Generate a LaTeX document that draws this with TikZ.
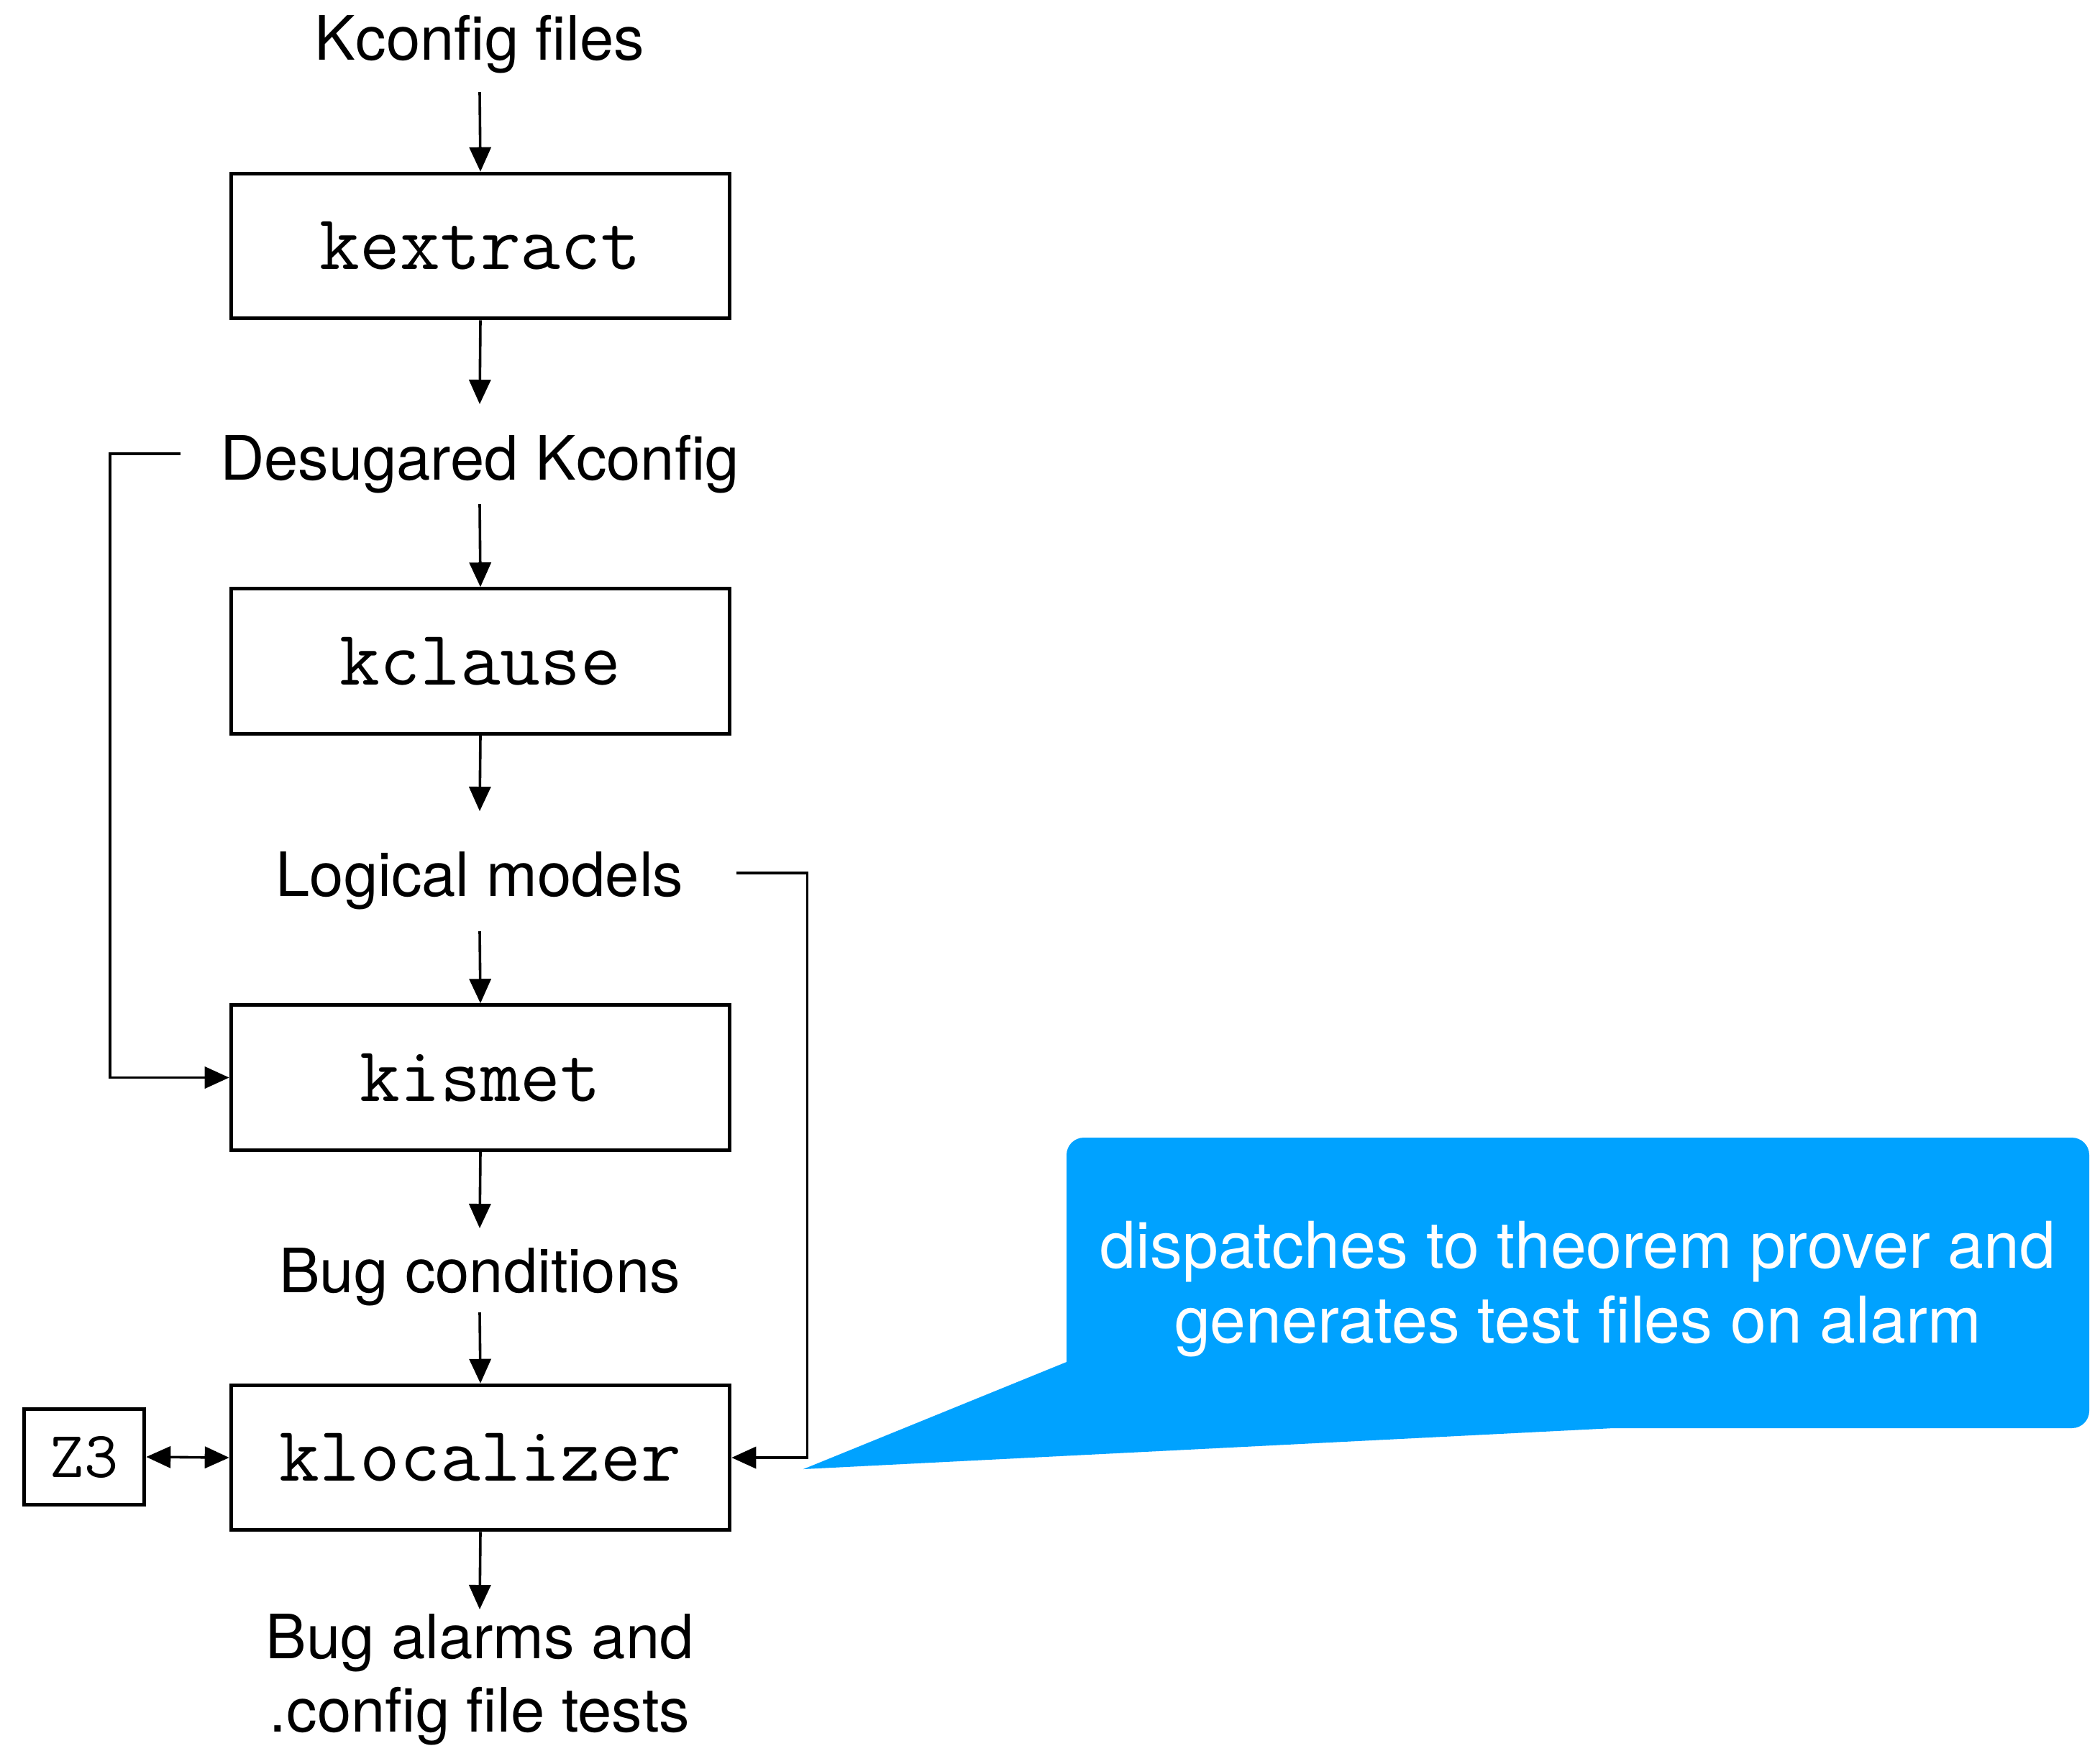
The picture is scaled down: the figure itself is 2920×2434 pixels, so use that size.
\documentclass[tikz,border=0pt]{standalone}
\usepackage{fontspec}
\setmainfont{TeX Gyre Heros}
\usetikzlibrary{arrows.meta}
\definecolor{calloutblue}{RGB}{0,162,255}
\begin{document}
\begin{tikzpicture}[x=0.25pt,y=-0.25pt,
  >={Triangle[length=8.5pt,width=7.5pt]},
  lbl/.style={inner sep=0pt, anchor=base, font=\fontsize{21.25pt}{25.5pt}\selectfont},
  tool/.style={draw, line width=1.25pt, minimum width=173.4pt, minimum height=50.4pt,
    inner sep=0pt, font=\ttfamily\fontsize{27.1pt}{32pt}\selectfont},
  conn/.style={line width=0.9pt, ->},
  note/.style={inner sep=0pt, anchor=base, text=white, font=\fontsize{22.4pt}{26pt}\selectfont}]
\path[use as bounding box] (0,0) rectangle (2920,2434);

% callout bubble
\fill[calloutblue] (1483,1894) [rounded corners=6pt] -- (1483,1582) -- (2905,1582)
  -- (2905,1986) [sharp corners] -- (2243,1986) -- (1117,2043) -- cycle;
\node[note] (note1) at (2194,1763) {dispatches to theorem prover and};
\node[note] (note2) at (2194,1867) {generates test files on alarm};

% pipeline
\node[lbl] (kcf) at (667,83) {Kconfig files};
\node[tool] (kext) at (668,342) {kextract};
\node[lbl] (desug) at (667,667) {Desugared Kconfig};
\node[tool] (kcl) at (668,919.5) {kclause};
\node[lbl] (logic) at (667,1246) {Logical models};
\node[tool] (kism) at (668,1498.5) {kismet};
\node[lbl] (bugc) at (667,1797) {Bug conditions};
\node[tool] (kloc) at (668,2027) {klocalizer};
\node[lbl] (alarm1) at (667,2306) {Bug alarms and};
\node[lbl] (alarm2) at (667,2408) {.config file tests};
\node[draw, line width=1.25pt, minimum width=41.9pt, minimum height=33.4pt, inner sep=0pt,
  font=\ttfamily\fontsize{22.9pt}{27pt}\selectfont] (z3) at (117,2026) {Z3};

\draw[conn] ([yshift=-11.25pt]kcf.base) -- (kext.north);
\draw[conn] (kext.south) -- ([yshift=26.25pt]desug.base);
\draw[conn] ([yshift=-8.5pt]desug.base) -- (kcl.north);
\draw[conn] (kcl.south) -- ([yshift=29.5pt]logic.base);
\draw[conn] ([yshift=-12.25pt]logic.base) -- (kism.north);
\draw[conn] (kism.south) -- ([yshift=22.25pt]bugc.base);
\draw[conn] ([yshift=-7pt]bugc.base) -- (kloc.north);
\draw[conn] (kloc.south) -- ([yshift=17pt]alarm1.base);
\draw[conn, <->] (z3.east) -- (kloc.west);

% feedback lines
\draw[conn] ([xshift=-104pt,yshift=9pt]desug.base) -| ([xshift=-41.5pt]kism.west) -- (kism.west);
\draw[conn] ([xshift=89.25pt,yshift=8pt]logic.base) -| ([xshift=26.25pt]kloc.east) -- (kloc.east);
\end{tikzpicture}
\end{document}
